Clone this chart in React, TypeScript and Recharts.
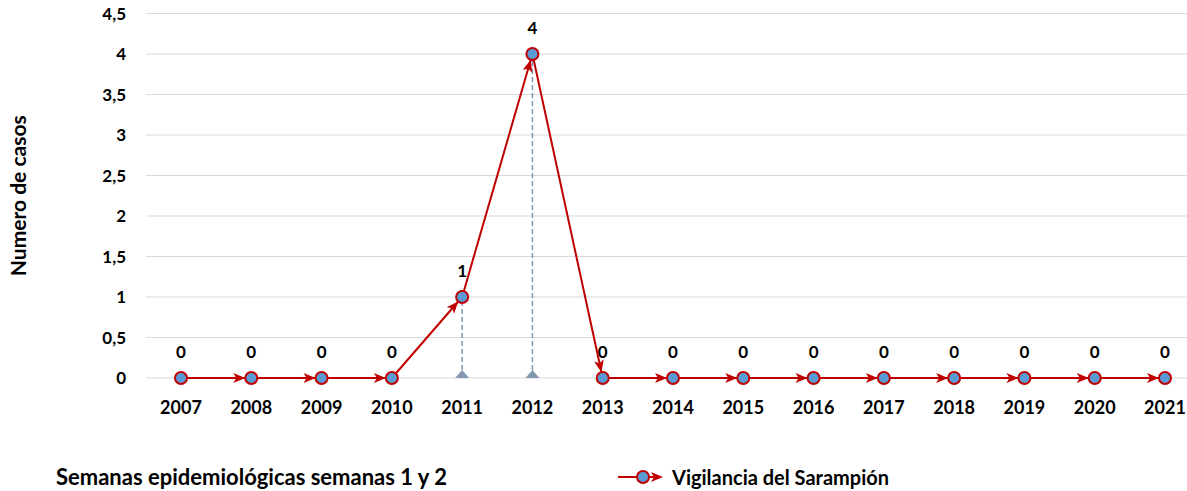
import { LineChart, Line, XAxis, YAxis, CartesianGrid, ReferenceLine, LabelList } from 'recharts';

const years = ['2007', '2008', '2009', '2010', '2011', '2012', '2013', '2014', '2015', '2016', '2017', '2018', '2019', '2020', '2021'];
const cases = [0, 0, 0, 0, 1, 4, 0, 0, 0, 0, 0, 0, 0, 0, 0];
const dropYears = ['2011', '2012'];
const dropValues = [1, 4];
const yTicks = [0, 0.5, 1, 1.5, 2, 2.5, 3, 3.5, 4, 4.5];

const RED = '#C00000';
const BLUE = '#5B9BD5';
const DROP = '#8497B0';
const FONT = 'Lato, "Liberation Sans", sans-serif';

// one row per year; seg_i holds only the two ends of segment i so every segment gets its own arrow
const data = years.map((year, i) => {
  const row: Record<string, any> = {
    year,
    cases: cases[i],
    base: dropYears.includes(year) ? 0 : null,
  };
  for (let s = 0; s < years.length - 1; s++) {
    row[`seg${s}`] = i === s || i === s + 1 ? cases[i] : null;
  }
  return row;
});

const fmt = (v: number) => String(v).replace('.', ',');

const Triangle = (props: any) => {
  const { cx, cy, value, index } = props;
  if (value == null || cx == null) return <g key={`t${index}`} />;
  return <path key={`t${index}`} d={`M${cx - 7},${cy} L${cx + 7},${cy} L${cx},${cy - 8} Z`} fill={DROP} />;
};

export default function App() {
  return (
    <div style={{ position: 'absolute', left: 0, top: 0, width: 1187, height: 491, overflow: 'hidden', fontFamily: FONT }}>
      <svg width={0} height={0} style={{ position: 'absolute' }}>
        <defs>
          <marker id="arrow" markerUnits="userSpaceOnUse" markerWidth={24} markerHeight={12} refX={18} refY={5} orient="auto" overflow="visible">
            <path d="M0,0 L12,5 L0,10 L3,5 Z" fill={RED} />
          </marker>
        </defs>
      </svg>
      <LineChart width={1215} height={491} data={data} margin={{ top: 13.5, right: 15, left: 0, bottom: 0 }}>
        <CartesianGrid vertical={false} stroke="#D9D9D9" strokeWidth={1} />
        <XAxis
          dataKey="year"
          height={113}
          axisLine={false}
          tickLine={false}
          padding={{ left: 35, right: 35 }}
          tickMargin={17}
          tick={{ fill: '#000', fontSize: 18, fontWeight: 700, fontFamily: FONT }}
        />
        <YAxis
          width={146}
          domain={[0, 4.5]}
          ticks={yTicks}
          interval={0}
          axisLine={false}
          tickLine={false}
          tickMargin={14}
          tickFormatter={fmt}
          tick={{ fill: '#000', fontSize: 17, fontWeight: 700, fontFamily: FONT }}
          label={(p: any) => {
            const vb = p.viewBox;
            const cy = vb.y + vb.height / 2;
            return (
              <text x={26} y={cy} transform={`rotate(-90 26 ${cy})`} textAnchor="middle" fontSize={21} fontWeight={700} fontFamily={FONT} fill="#000">
                Numero de casos
              </text>
            );
          }}
        />
        {dropYears.map((y, i) => (
          <ReferenceLine
            key={y}
            segment={[{ x: y, y: 0 }, { x: y, y: dropValues[i] }]}
            stroke={DROP}
            strokeWidth={1.5}
            strokeDasharray="5 3"
          />
        ))}
        <Line dataKey="base" stroke="none" dot={Triangle} activeDot={false} isAnimationActive={false} legendType="none" />
        {years.slice(0, -1).map((_, s) => (
          <Line
            key={s}
            dataKey={`seg${s}`}
            stroke={RED}
            strokeWidth={2}
            dot={false}
            activeDot={false}
            markerEnd="url(#arrow)"
            isAnimationActive={false}
            legendType="none"
          />
        ))}
        <Line
          dataKey="cases"
          stroke="none"
          dot={{ r: 6, fill: BLUE, stroke: RED, strokeWidth: 2 }}
          activeDot={false}
          isAnimationActive={false}
        >
          <LabelList dataKey="cases" position="top" offset={20} fill="#000" fontSize={17} fontWeight={700} fontFamily={FONT} />
        </Line>
      </LineChart>
      <div style={{ position: 'absolute', left: 56, top: 463, fontSize: 22, fontWeight: 700, color: '#000', whiteSpace: 'nowrap' }}>
        Semanas epidemiológicas semanas 1 y 2
      </div>
      <div style={{ position: 'absolute', left: 616, top: 465, display: 'flex', alignItems: 'center', fontSize: 20, fontWeight: 700, color: '#000', whiteSpace: 'nowrap' }}>
        <svg width={52} height={20}>
          <line x1={2} y1={10} x2={40} y2={10} stroke={RED} strokeWidth={2} />
          <path d="M35,5 L47,10 L35,15 L38,10 Z" fill={RED} />
          <circle cx={27} cy={10} r={6} fill={BLUE} stroke={RED} strokeWidth={2} />
        </svg>
        <span style={{ marginLeft: 4 }}>Vigilancia del Sarampión</span>
      </div>
    </div>
  );
}
